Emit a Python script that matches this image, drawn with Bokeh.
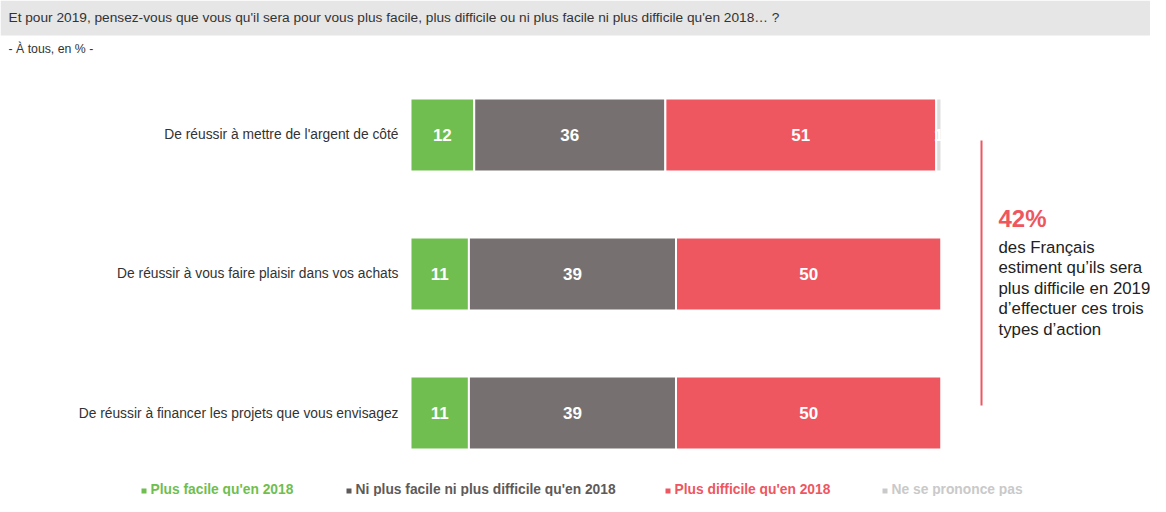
import numpy as np
from bokeh.plotting import figure
from bokeh.models import Range1d, BoxAnnotation, Label, ColumnDataSource
from bokeh.core.properties import value
from bokeh.embed import file_html
from bokeh.resources import INLINE

# ---------------- data ----------------
title_text = "Et pour 2019, pensez-vous que vous qu'il sera pour vous plus facile, plus difficile ou ni plus facile ni plus difficile qu'en 2018\u2026 ?"
subtitle_text = "- \u00c0 tous, en % -"
categories = [
    "De r\u00e9ussir \u00e0 mettre de l'argent de c\u00f4t\u00e9",
    "De r\u00e9ussir \u00e0 vous faire plaisir dans vos achats",
    "De r\u00e9ussir \u00e0 financer les projets que vous envisagez",
]
series_names = [
    "Plus facile qu'en 2018",
    "Ni plus facile ni plus difficile qu'en 2018",
    "Plus difficile qu'en 2018",
    "Ne se prononce pas",
]
plus_facile = [12, 11, 11]
ni_ni = [36, 39, 39]
plus_difficile = [51, 50, 50]
nsp = [1, 0, 0]
highlight_value = "42%"
highlight_lines = [
    "des Fran\u00e7ais",
    "estiment qu\u2019ils sera",
    "plus difficile en 2019",
    "d\u2019effectuer ces trois",
    "types d\u2019action",
]

# ---------------- style ----------------
FONT = "Liberation Sans"
bar_colors = ["#6fbe4f", "#767170", "#ee5660", "#dedede"]
legend_text_colors = ["#6fbe4f", "#5e5a59", "#ee5660", "#c9c9c9"]
W, H = 1150, 496

p = figure(width=W, height=H, output_backend="svg", toolbar_location=None,
           x_range=Range1d(-77.21, 139.36), y_range=Range1d(-0.6007, 2.9676),
           x_axis_type=None, y_axis_type=None, min_border=0, title=None)
p.outline_line_color = None
p.background_fill_color = "white"
p.border_fill_color = "white"

series = [plus_facile, ni_ni, plus_difficile, nsp]
n = len(categories)
ypos = np.arange(n)[::-1].astype(float)
left = np.zeros(n)
for vals, col in zip(series, bar_colors):
    vals = np.array(vals, dtype=float)
    right = left + vals
    src = ColumnDataSource(dict(y=ypos, left=left, right=right))
    p.hbar(y="y", left="left", right="right", height=0.525, source=src,
           fill_color=col, line_color="white", line_width=2)
    mask = vals > 0
    tsrc = ColumnDataSource(dict(x=((left + right) / 2)[mask], y=ypos[mask],
                                 t=[str(int(v)) for v in vals[mask]]))
    p.text(x="x", y="y", text="t", source=tsrc, text_color="white",
           text_font=value(FONT), text_font_style="bold", text_font_size="17px",
           text_align="center", text_baseline="middle")
    left = right

# category labels
csrc = ColumnDataSource(dict(x=np.zeros(n), y=ypos, t=categories))
p.text(x="x", y="y", text="t", source=csrc, x_offset=-12, text_color="#333333",
       text_font=value(FONT), text_font_size="13.8px", text_align="right",
       text_baseline="middle")

# title bar
p.add_layout(BoxAnnotation(left=0, right=W, bottom=H - 35, top=H,
                           left_units="screen", right_units="screen",
                           bottom_units="screen", top_units="screen",
                           fill_color="#e6e6e6", fill_alpha=1, line_color=None,
                           level="underlay"))
p.add_layout(Label(x=8, y=H - 17, x_units="screen", y_units="screen", text=title_text,
                   text_font=FONT, text_font_size="13.7px", text_color="#333333",
                   text_baseline="middle"))
p.add_layout(Label(x=8, y=H - 48, x_units="screen", y_units="screen", text=subtitle_text,
                   text_font=FONT, text_font_size="12.3px", text_color="#333333",
                   text_baseline="middle"))

# highlight annotation
p.add_layout(BoxAnnotation(left=980, right=982, bottom=H - 405, top=H - 140,
                           left_units="screen", right_units="screen",
                           bottom_units="screen", top_units="screen",
                           fill_color="#ee5660", fill_alpha=1, line_color=None))
p.add_layout(Label(x=998, y=H - 218, x_units="screen", y_units="screen",
                   text=highlight_value, text_font=FONT, text_font_size="24px",
                   text_font_style="bold", text_color="#ee5660", text_baseline="middle"))
for i, line in enumerate(highlight_lines):
    p.add_layout(Label(x=998, y=H - 247 - i * 20.4, x_units="screen", y_units="screen",
                       text=line, text_font=FONT, text_font_size="16.8px",
                       text_color="#222222", text_baseline="middle"))

# legend
legend_x = [141, 346, 665, 882]
for name, col, tcol, lx in zip(series_names, bar_colors, legend_text_colors, legend_x):
    p.add_layout(BoxAnnotation(left=lx, right=lx + 5, bottom=H - 493, top=H - 488,
                               left_units="screen", right_units="screen",
                               bottom_units="screen", top_units="screen",
                               fill_color=tcol, fill_alpha=1, line_color=None))
    p.add_layout(Label(x=lx + 9, y=H - 489, x_units="screen", y_units="screen", text=name,
                       text_font=FONT, text_font_size="13.8px", text_font_style="bold",
                       text_color=tcol, text_baseline="middle"))

open("out.html", "w").write(file_html(p, INLINE))
